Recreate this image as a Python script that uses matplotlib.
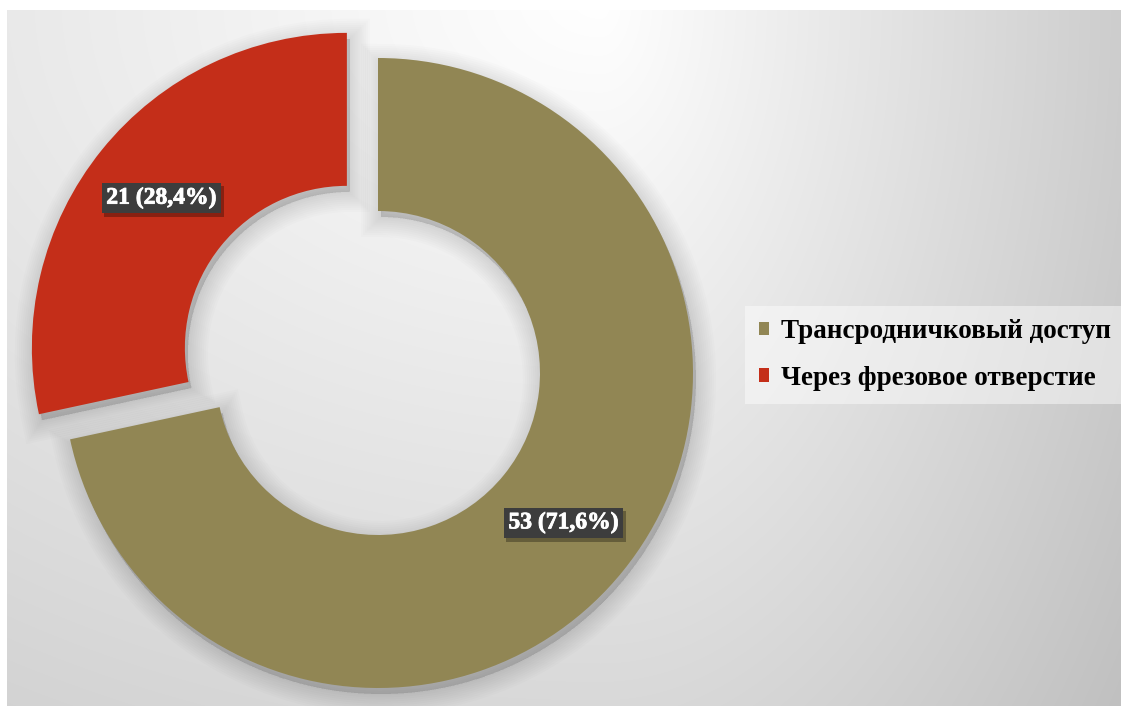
import numpy as np
import matplotlib
matplotlib.use("Agg")
import matplotlib.pyplot as plt
import matplotlib.patheffects as pe

plt.rcParams['font.family'] = ['Liberation Serif', 'DejaVu Serif']

categories = ['Трансродничковый доступ', 'Через фрезовое отверстие']
counts = [53, 21]
colors = ['#918654', '#c42e19']

W, H = 1121, 706
fig = plt.figure(figsize=(W / 100, H / 100), dpi=100, facecolor='white')

# soft backdrop: light near the top middle, darker towards the right and bottom
bg = fig.add_axes([7 / W, 0, 1 - 7 / W, 1 - 10 / H])
bg.set_axis_off()
yy, xx = np.mgrid[10:H, 7:W].astype(float)
dx = xx - 600
sx = np.where(dx > 0, 625.0, 1617.0)
r = np.hypot(dx / sx, yy / 1105.0)
shade = np.clip(255 - 60 * r, 0, 255) / 255.0
bg.imshow(np.dstack([shade] * 3), aspect='auto', interpolation='bilinear')

ax = fig.add_axes([0, 0, 1, 1])
ax.set_axis_off()
ax.patch.set_alpha(0)

center = (378, H - 373)
radius = 315
ring = 153
explode = [0, 0.127 * radius]
total = sum(counts)

# blurred drop shadow under the ring
for k in range(10):
    ax.pie(counts, explode=explode, startangle=90, counterclock=False,
           radius=radius, center=(center[0] + 3, center[1] - 6),
           colors=['#000000'] * 2,
           wedgeprops=dict(width=ring, alpha=0.013, linewidth=2 + 3 * k,
                           edgecolor='#000000'))


def fmt(pct):
    n = int(round(pct * total / 100))
    return f"{n} ({pct:.1f}%)".replace('.', ',')


wedges, texts, autotexts = ax.pie(
    counts, explode=explode, startangle=90, counterclock=False,
    radius=radius, center=center, colors=colors,
    wedgeprops=dict(width=ring, linewidth=0),
    autopct=fmt, pctdistance=0.757,
    textprops=dict(color='white', fontsize=17, fontweight='bold'))

for t in autotexts:
    t.set_path_effects([pe.withStroke(linewidth=0.6, foreground='white')])
    t.set_bbox(dict(boxstyle='square,pad=0.2', facecolor='#3d3d3d',
                    edgecolor='none'))
    t.get_bbox_patch().set_path_effects([
        pe.SimplePatchShadow(offset=(2, -2.5), shadow_rgbFace='black', alpha=0.3),
        pe.Normal()])

ax.set_xlim(0, W)
ax.set_ylim(0, H)

leg = ax.legend(wedges, categories, loc='center left',
                bbox_to_anchor=(745 / W, 1 - 355 / H), borderaxespad=0,
                prop=dict(family='Liberation Serif', weight='bold', size=19.5),
                handlelength=0.4, handleheight=0.4, handletextpad=0.42,
                labelspacing=0.8, borderpad=0.5, frameon=True, fancybox=False)
frame = leg.get_frame()
frame.set_facecolor('white')
frame.set_alpha(0.45)
frame.set_edgecolor('none')

fig.savefig('out.png', dpi=100, facecolor='white')
